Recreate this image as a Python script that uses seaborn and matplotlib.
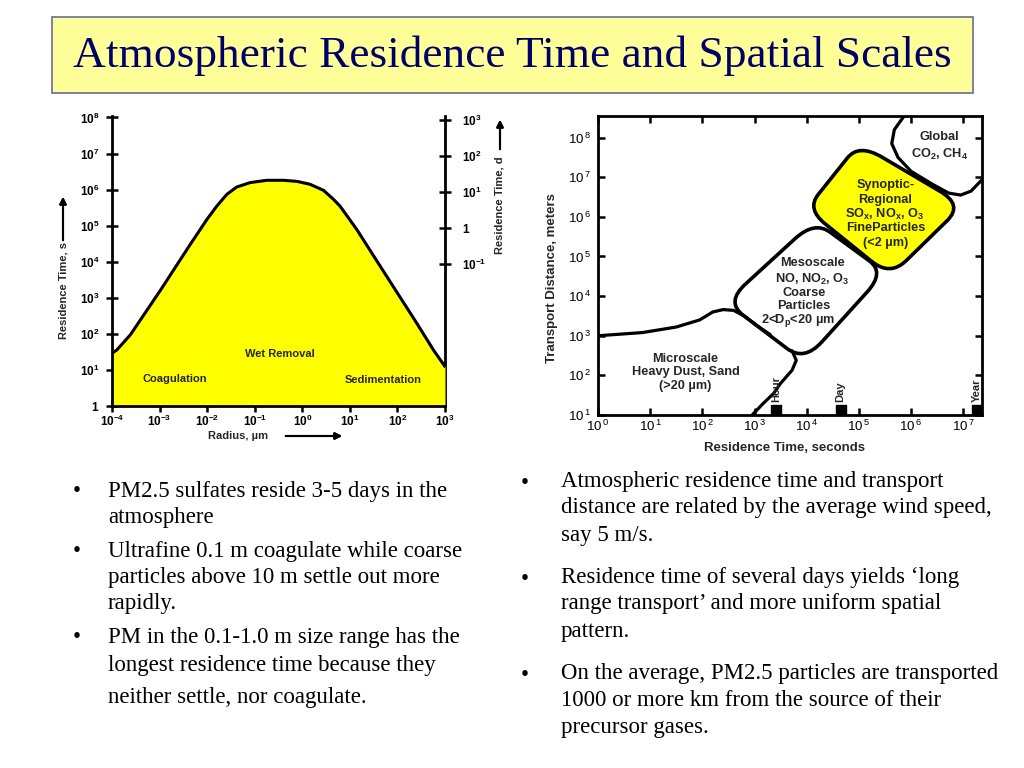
import matplotlib
matplotlib.use('Agg')
import numpy as np
import matplotlib.pyplot as plt
import seaborn as sns
from matplotlib.path import Path
from matplotlib.patches import PathPatch, Rectangle

# left chart: residence time vs particle radius
radius_um = [1e-4, 1.27e-4, 2.43e-4, 1.03e-3, 4.4e-3, 9.9e-3, 1.6e-2, 2.6e-2, 4.2e-2, 8.0e-2,
             0.18, 0.40, 0.77, 1.46, 2.8, 4.5, 6.2, 14, 51, 254, 569, 1000]
residence_s = [29, 36, 94, 1580, 3.0e4, 1.49e5, 3.5e5, 7.4e5, 1.18e6, 1.56e6,
               1.81e6, 1.81e6, 1.69e6, 1.40e6, 9.5e5, 5.4e5, 3.5e5, 7.8e4, 5.4e3, 199, 36, 12.4]
left_xticks = [1e-4, 1e-3, 1e-2, 1e-1, 1, 10, 100, 1000]
left_xlabels = ['-4', '-3', '-2', '-1', '0', '1', '2', '3']
left_yticks = [1, 10, 100, 1e3, 1e4, 1e5, 1e6, 1e7, 1e8]
day_ticks = [0.1, 1, 10, 100, 1000]
day_labels = [r'$\mathbf{10^{-1}}$', r'$\mathbf{1}$', r'$\mathbf{10^{1}}$',
              r'$\mathbf{10^{2}}$', r'$\mathbf{10^{3}}$']

# right chart: regions in log10(seconds), log10(meters)
micro_t = [0.0, 0.85, 1.5, 1.95, 2.2, 2.4, 2.6, 2.8, 3.05, 3.3]
micro_d = [3.0, 3.08, 3.22, 3.4, 3.6, 3.66, 3.64, 3.5, 3.25, 3.03]
divider_t = [3.72, 3.8, 3.72, 3.5, 3.37, 3.15, 2.955]
divider_d = [2.62, 2.38, 2.13, 1.8, 1.55, 1.27, 1.0]
meso_t = [2.45, 4.15, 5.5, 3.95]
meso_d = [3.85, 5.9, 4.6, 2.35]
syn_t = [4.0, 5.0, 7.0, 5.6]
syn_d = [6.2, 7.85, 6.3, 4.5]
global_t = [5.87, 5.68, 5.63, 5.75, 6.0, 6.4, 6.72, 6.95, 7.15, 7.37]
global_d = [8.55, 8.2, 7.85, 7.5, 7.15, 6.83, 6.6, 6.55, 6.65, 6.95]
mark_names = ['Hour', 'Day', 'Year']
mark_t = [3.42, 4.65, 7.27]
right_xexp = [0, 1, 2, 3, 4, 5, 6, 7]
right_yexp = [1, 2, 3, 4, 5, 6, 7, 8]

title = 'Atmospheric Residence Time and Spatial Scales'
left_bullets = [
    ['PM2.5 sulfates reside 3-5 days in the', 'atmosphere'],
    ['Ultrafine 0.1 m coagulate while coarse', 'particles above 10 m settle out more', 'rapidly.'],
    ['PM in the 0.1-1.0 m size range has the', 'longest residence time because they',
     'neither settle, nor coagulate.'],
]
left_line_y = [[491, 517], [551, 577, 604], [637, 665, 697]]
right_bullets = [
    ['Atmospheric residence time and transport', 'distance are related by the average wind speed,',
     'say 5 m/s.'],
    ['Residence time of several days yields \u2018long', 'range transport\u2019 and more uniform spatial',
     'pattern.'],
    ['On the average, PM2.5 particles are transported', '1000 or more km from the source of their',
     'precursor gases.'],
]
right_line_y = [[481, 508, 535], [577, 604, 631], [673, 700, 727]]

sns.set_theme(style='white')
plt.rcParams['font.family'] = ['Liberation Sans', 'DejaVu Sans']
plt.rcParams['mathtext.fontset'] = 'custom'
plt.rcParams['mathtext.rm'] = 'Liberation Sans'
plt.rcParams['mathtext.bf'] = 'Liberation Sans:bold'

W, H = 1024, 768
fig = plt.figure(figsize=(W / 100, H / 100), dpi=100)
fig.patch.set_facecolor('white')


def fx(x, y):
    return (x / W, 1 - y / H)


def axpos(x0, y0, x1, y1):
    return [x0 / W, 1 - y1 / H, (x1 - x0) / W, (y1 - y0) / H]


# title box
fig.add_artist(Rectangle(fx(52, 93), 921 / W, 76 / H, transform=fig.transFigure,
                         facecolor='#FFFF99', edgecolor='#6B6B9A', lw=1.2))
fig.text(512 / W, 1 - 56 / H, title, ha='center', va='center', color='#000066',
         family='Liberation Serif', fontsize=32.7)

# ---------- left chart ----------
ax1 = fig.add_axes(axpos(112, 116, 445, 406))
ax1.set_xscale('log')
ax1.set_yscale('log')
ax1.fill_between(radius_um, 1, residence_s, color='#FFFF00', lw=0)
sns.lineplot(x=radius_um, y=residence_s, ax=ax1, color='black', lw=2.2)
ax1.set_xlim(1e-4, 1e3)
ax1.set_ylim(1, 10 ** 8.04)
ax1.set_xticks(left_xticks)
ax1.set_xticklabels([r'$\mathbf{10^{%s}}$' % s for s in left_xlabels])
ax1.set_yticks(left_yticks)
ax1.set_yticklabels([r'$\mathbf{1}$'] + [r'$\mathbf{10^{%d}}$' % i for i in range(1, 9)])
ax1.minorticks_off()
for s in ['top', 'right']:
    ax1.spines[s].set_visible(False)
for s in ['left', 'bottom']:
    ax1.spines[s].set_color('black')
    ax1.spines[s].set_linewidth(2)
ax1.tick_params(axis='both', direction='inout', length=8, width=1.8, colors='black',
                labelsize=8.5, pad=5, bottom=True, left=True)
ax1.tick_params(axis='x', pad=1.5)
ax1.text(0.34, 27, 'Wet Removal', ha='center', va='center', fontsize=8, weight='bold')
ax1.text(2.1e-3, 5.6, 'Coagulation', ha='center', va='center', fontsize=8, weight='bold')
ax1.text(50, 5.3, 'Sedimentation', ha='center', va='center', fontsize=8, weight='bold')

sec = ax1.secondary_yaxis('right', functions=(lambda s: s / 86400.0, lambda d: d * 86400.0))
sec.set_yticks(day_ticks)
sec.set_yticklabels(day_labels)
sec.minorticks_off()
sec.spines['right'].set_linewidth(2)
sec.spines['right'].set_color('black')
sec.tick_params(direction='inout', length=8, width=1.8, colors='black', labelsize=8.5, pad=8)

fig.text(*fx(63, 290), 'Residence Time, s', rotation=90, ha='center', va='center',
         fontsize=8, weight='bold')
fig.text(*fx(500, 205), 'Residence Time, d', rotation=90, ha='center', va='center',
         fontsize=8, weight='bold')
fig.text(*fx(238, 436), 'Radius, \u00b5m', ha='center', va='center', fontsize=8, weight='bold')
arrow = dict(arrowstyle='-|>', color='black', lw=1.5, mutation_scale=10)
fig.add_artist(plt.annotate('', xy=fx(63, 194), xytext=fx(63, 243), xycoords='figure fraction',
                            arrowprops=arrow))
fig.add_artist(plt.annotate('', xy=fx(500, 117), xytext=fx(500, 152), xycoords='figure fraction',
                            arrowprops=arrow))
fig.add_artist(plt.annotate('', xy=fx(345, 436), xytext=fx(283, 436), xycoords='figure fraction',
                            arrowprops=arrow))

# ---------- right chart ----------
ax2 = fig.add_axes(axpos(598, 116, 982, 415))
ax2.set_xscale('log')
ax2.set_yscale('log')
ax2.set_xlim(1, 10 ** 7.36)
ax2.set_ylim(10, 10 ** 8.545)


def rounded_patch(ts, ds, frac, **kw):
    pts = np.column_stack([ts, ds])
    n = len(pts)
    verts, codes = [], []
    for i in range(n):
        p = pts[i]
        a = p + (pts[i - 1] - p) * frac
        b = p + (pts[(i + 1) % n] - p) * frac
        verts += [a, p, b]
        codes += [Path.MOVETO if i == 0 else Path.LINETO, Path.CURVE3, Path.CURVE3]
    verts.append(verts[0])
    codes.append(Path.CLOSEPOLY)
    verts = np.power(10.0, np.array(verts))
    return PathPatch(Path(verts, codes), **kw)


ax2.add_patch(rounded_patch(syn_t, syn_d, 0.22, facecolor='#FFFF00', edgecolor='black', lw=2.6))
ax2.add_patch(rounded_patch(meso_t, meso_d, 0.22, facecolor='none', edgecolor='black', lw=2.6))
for ts, ds in [(micro_t, micro_d), (divider_t, divider_d), (global_t, global_d)]:
    sns.lineplot(x=np.power(10.0, ts), y=np.power(10.0, ds), ax=ax2, color='black', lw=2.3,
                 sort=False, estimator=None)

for name, t in zip(mark_names, mark_t):
    ax2.scatter([10 ** t], [13.2], marker='s', s=55, color='black', zorder=5)
    ax2.text(10 ** t, 10 ** 1.33, name, rotation=90, ha='center', va='bottom', fontsize=8,
             weight='bold')

txt = dict(ha='center', va='center', fontsize=9.2, weight='bold')
ax2.text(10 ** 1.68, 10 ** 2.42, 'Microscale', **txt)
ax2.text(10 ** 1.68, 10 ** 2.09, 'Heavy Dust, Sand', **txt)
ax2.text(10 ** 1.68, 10 ** 1.72, '(>20 \u00b5m)', **txt)
ax2.text(10 ** 4.11, 10 ** 4.84, 'Mesoscale', **txt)
ax2.text(10 ** 4.11, 10 ** 4.43, r'NO, NO$_\mathbf{2}$, O$_\mathbf{3}$', **txt)
ax2.text(10 ** 3.95, 10 ** 4.07, 'Coarse', **txt)
ax2.text(10 ** 3.95, 10 ** 3.74, 'Particles', **txt)
ax2.text(10 ** 3.83, 10 ** 3.39, '2<D$_\\mathbf{p}$<20 \u00b5m', **txt)
ax2.text(10 ** 5.51, 10 ** 6.80, 'Synoptic-', **txt)
ax2.text(10 ** 5.51, 10 ** 6.42, 'Regional', **txt)
ax2.text(10 ** 5.49, 10 ** 6.07, r'SO$_\mathbf{x}$, NO$_\mathbf{x}$, O$_\mathbf{3}$', **txt)
ax2.text(10 ** 5.51, 10 ** 5.71, 'FineParticles', **txt)
ax2.text(10 ** 5.51, 10 ** 5.34, '(<2 \u00b5m)', **txt)
ax2.text(10 ** 6.54, 10 ** 8.01, 'Global', **txt)
ax2.text(10 ** 6.54, 10 ** 7.58, r'CO$_\mathbf{2}$, CH$_\mathbf{4}$', **txt)

ax2.set_xticks([10.0 ** e for e in right_xexp])
ax2.set_xticklabels([r'$10^{\,%d}$' % e for e in right_xexp])
ax2.set_yticks([10.0 ** e for e in right_yexp])
ax2.set_yticklabels([r'$10^{\,%d}$' % e for e in right_yexp])
ax2.minorticks_off()
for s in ax2.spines.values():
    s.set_color('black')
    s.set_linewidth(2)
ax2.tick_params(axis='both', direction='in', length=5, width=1.8, colors='black',
                labelsize=9.5, pad=5, top=True, right=True, bottom=True, left=True)
ax2.tick_params(axis='x', pad=3)
fig.text(*fx(785, 448), 'Residence Time, seconds', ha='center', va='center', fontsize=9.5,
         weight='bold')
fig.text(*fx(552, 278), 'Transport Distance, meters', rotation=90, ha='center', va='center',
         fontsize=9.5, weight='bold')

# ---------- bullet text ----------
btxt = dict(family='Liberation Serif', fontsize=16.5, va='center', color='black')
for lines, ys in zip(left_bullets, left_line_y):
    fig.text(*fx(73, ys[0]), '\u2022', **btxt)
    for line, y in zip(lines, ys):
        fig.text(*fx(108, y), line, **btxt)
for lines, ys in zip(right_bullets, right_line_y):
    fig.text(*fx(521, ys[0] + 2), '\u2022', **btxt)
    for line, y in zip(lines, ys):
        fig.text(*fx(561, y), line, **btxt)

fig.savefig('out.png', dpi=100, facecolor='white')
